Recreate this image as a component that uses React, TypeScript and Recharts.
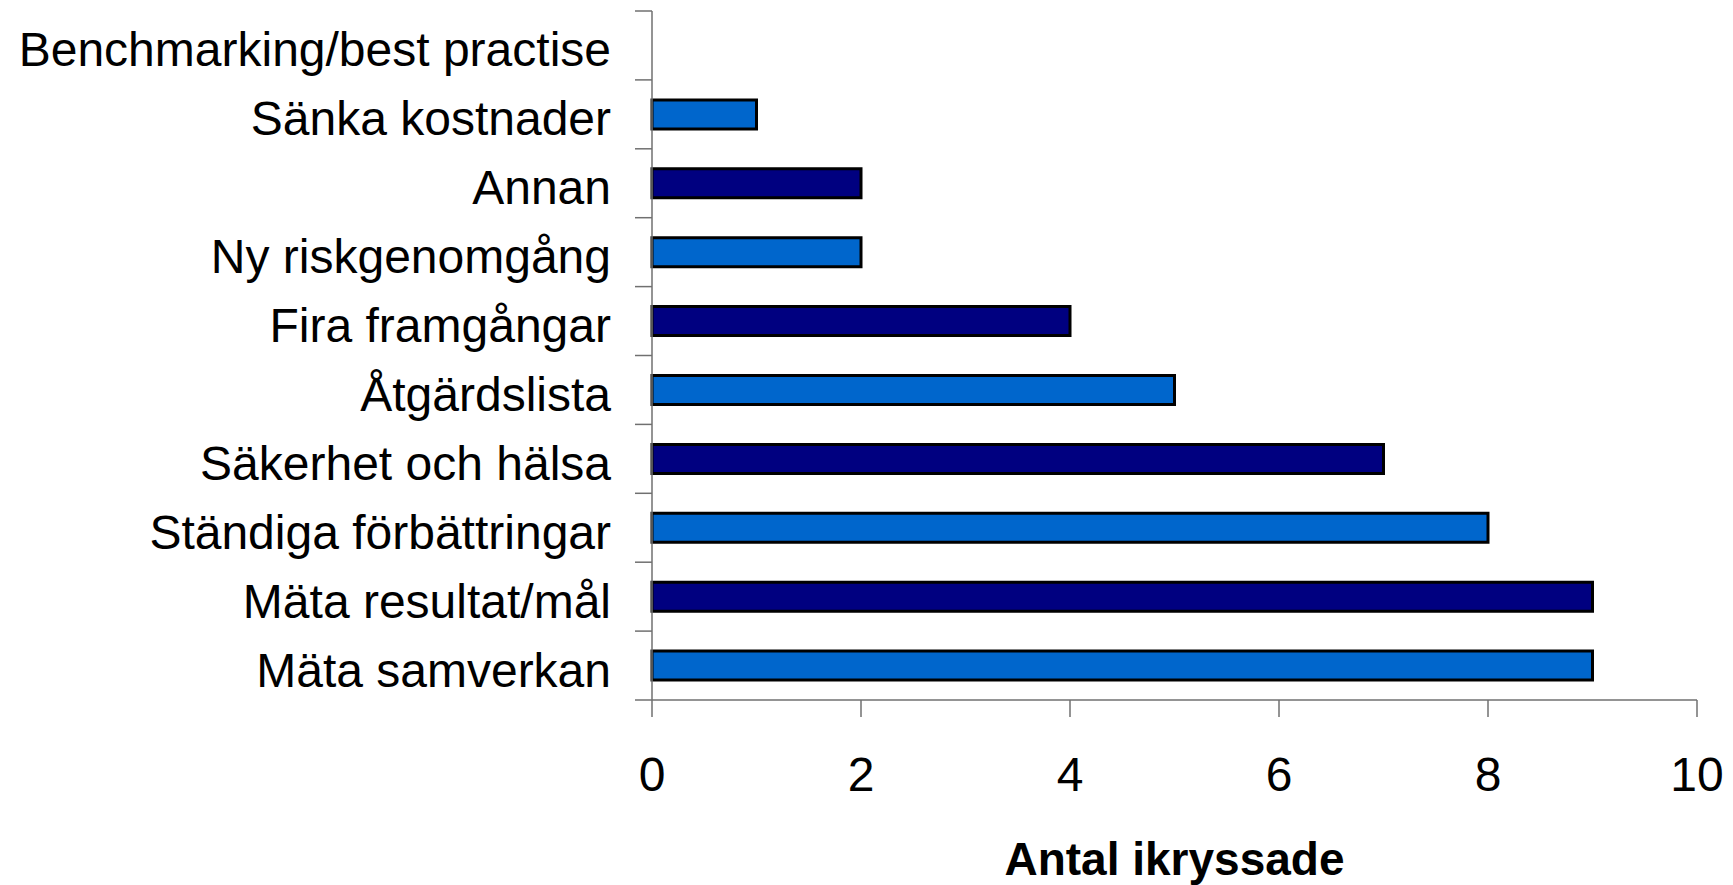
import React from 'react';
import { BarChart, Bar, XAxis, YAxis, Cell } from 'recharts';

const categories = [
  'Benchmarking/best practise',
  'Sänka kostnader',
  'Annan',
  'Ny riskgenomgång',
  'Fira framgångar',
  'Åtgärdslista',
  'Säkerhet och hälsa',
  'Ständiga förbättringar',
  'Mäta resultat/mål',
  'Mäta samverkan',
];
const counts = [0, 1, 2, 2, 4, 5, 7, 8, 9, 9];
const barColors = ['#000080', '#0066CC'];
const xTicks = [0, 2, 4, 6, 8, 10];

const data = categories.map((name, i) => ({ name, value: counts[i] }));

const FONT = '"Liberation Sans", Arial, sans-serif';
const LABEL_GAP = 41;
const TICK_LEN = 17;
const AXIS_GREY = '#707070';

// category labels plus Excel-style tick marks on the band edges
const CategoryTick = (props: any) => {
  const { x, y, payload, index } = props;
  const half = payload.offset || 0;
  const axisX = x + LABEL_GAP;
  const last = index === categories.length - 1;
  return (
    <g>
      <line x1={axisX - TICK_LEN} x2={axisX} y1={y - half} y2={y - half} stroke={AXIS_GREY} strokeWidth={1.5} />
      {last && (
        <line x1={axisX - TICK_LEN} x2={axisX} y1={y + half} y2={y + half} stroke={AXIS_GREY} strokeWidth={1.5} />
      )}
      <text x={x} y={y + 21} textAnchor="end" fontFamily={FONT} fontSize={48} fill="#000">
        {payload.value}
      </text>
    </g>
  );
};

const renderTitle = (props: any) => {
  const vb = props.viewBox;
  return (
    <text
      x={vb.x + vb.width / 2}
      y={vb.y + 175}
      textAnchor="middle"
      fontFamily={FONT}
      fontWeight="bold"
      fontSize={46}
      fill="#000"
    >
      Antal ikryssade
    </text>
  );
};

export default function App() {
  return (
    <div style={{ position: 'absolute', left: 0, top: 0 }}>
      <BarChart
        width={1733}
        height={885}
        data={data}
        layout="vertical"
        margin={{ top: 11, right: 36, bottom: 0, left: 0 }}
        barCategoryGap={0}
      >
        <XAxis
          type="number"
          domain={[0, 10]}
          ticks={xTicks}
          height={185}
          tickSize={17}
          tickMargin={40}
          axisLine={{ stroke: AXIS_GREY, strokeWidth: 1.5 }}
          tickLine={{ stroke: AXIS_GREY, strokeWidth: 1.5 }}
          tick={{ fontFamily: FONT, fontSize: 48, fill: '#000' }}
          label={{ content: renderTitle }}
        />
        <YAxis
          type="category"
          dataKey="name"
          width={652}
          tickSize={0}
          tickMargin={LABEL_GAP}
          tickLine={false}
          axisLine={{ stroke: AXIS_GREY, strokeWidth: 1.5 }}
          tick={<CategoryTick />}
          interval={0}
        />
        <Bar dataKey="value" barSize={29} stroke="#000" strokeWidth={3} isAnimationActive={false}>
          {data.map((_, i) => (
            <Cell key={`c-${i}`} fill={barColors[i % 2]} stroke="#000" strokeWidth={3} />
          ))}
        </Bar>
      </BarChart>
    </div>
  );
}
